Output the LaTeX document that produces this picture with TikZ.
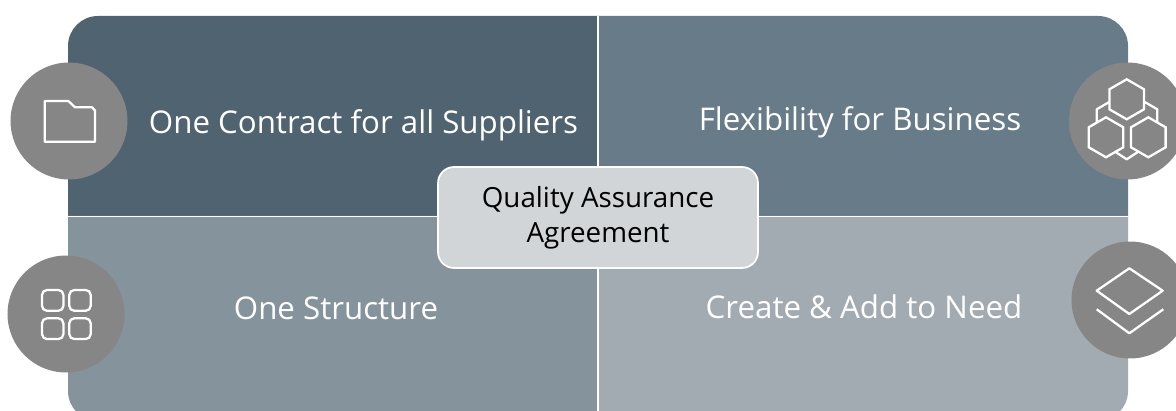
\documentclass[tikz,border=0pt]{standalone}
\usepackage{fontspec}
\setmainfont{Open Sans}
\usetikzlibrary{shapes.geometric}
\definecolor{quadA}{HTML}{506370}
\definecolor{quadB}{HTML}{687B89}
\definecolor{quadC}{HTML}{85939C}
\definecolor{quadD}{HTML}{A3ABB2}
\definecolor{badge}{HTML}{868686}
\definecolor{centre}{HTML}{D1D5D8}
\tikzset{
  badgenode/.style={circle,fill=badge,minimum size=2.34cm,inner sep=0pt},
  label/.style={text=white,font=\fontsize{17.8}{21}\selectfont,inner sep=0pt},
  icon/.style={draw=white,line width=1.3pt,line join=round},
  hexnode/.style={regular polygon,regular polygon sides=6,shape border rotate=30,draw=white,line width=1.3pt,minimum size=0.8cm,inner sep=0pt}
}
\begin{document}
\begin{tikzpicture}[x=0.02cm,y=-0.02cm]
\useasboundingbox (0,0) rectangle (1176,411);
\clip (0,0) rectangle (1176,411);

\fill[quadA] (598,216) -- (68,216) -- (68,46) arc[start angle=180,end angle=90,radius=0.6cm] -- (598,16) -- cycle;
\fill[quadB] (598,216) -- (598,16) -- (1098,16) arc[start angle=90,end angle=0,radius=0.6cm] -- (1128,216) -- cycle;
\fill[quadC] (598,216) -- (68,216) -- (68,391) arc[start angle=180,end angle=270,radius=0.6cm] -- (598,421) -- cycle;
\fill[quadD] (598,216) -- (598,421) -- (1098,421) arc[start angle=270,end angle=360,radius=0.6cm] -- (1128,216) -- cycle;

\coordinate (L) at (68,216.5);
\coordinate (R) at (1128,216.5);
\coordinate (T) at (598,16);
\coordinate (B) at (598,411);
\draw[white,line width=0.7pt] (L) -- (R);
\draw[white,line width=0.7pt] (T) -- (B);

\node[label] (contract) at (363.5,125) {One Contract for all Suppliers};
\node[label] (flex) at (860,122) {Flexibility for Business};
\node[label] (structure) at (336,308) {One Structure};
\node[label] (create) at (864,307) {Create \& Add to Need};

\node[draw=white,line width=1pt,fill=centre,rounded corners=0.32cm,minimum width=6.4cm,minimum height=2.02cm,
  align=center,inner sep=0pt,font=\fontsize{15.8}{19.8}\selectfont,text=black] (qaa) at (598,217.5) {Quality Assurance\\Agreement};

\node[badgenode] (folder) at (69,121) {};
\node[badgenode] (grid) at (66,314) {};
\node[badgenode] (hexes) at (1127.5,121) {};
\node[badgenode] (layers) at (1130,300) {};

% folder
\draw[icon] (44.7,141.7) -- (44.7,101) -- (68.3,101) -- (75,107.3) -- (92,107.3) -- (95,110.5) -- (95,141.7) -- cycle;

% grid
\foreach \x in {42,69.3}
  \foreach \y in {290,318.3}
    \draw[icon,rounded corners=0.1cm] (\x,\y) rectangle ++(21.4,20.8);

% hexagons
\draw[icon] (1109.3,102) -- (1096.7,109.3) -- (1096.7,123);
\draw[icon] (1144.7,102) -- (1157.3,109.3) -- (1157.3,123);
\draw[icon] (1115,151.7) -- (1126.7,159.3) -- (1138.3,151.7);
\node[hexnode] (hexT) at (1126.7,99.3) {};
\node[hexnode] (hexL) at (1106,137.3) {};
\node[hexnode] (hexR) at (1148.3,137.3) {};

% layers
\draw[icon] (1096.7,290.7) -- (1129.3,268.3) -- (1162.7,290.7) -- (1129.3,314) -- cycle;
\draw[icon] (1096.7,309.3) -- (1129.3,333.3) -- (1163.3,309.3);
\end{tikzpicture}
\end{document}
